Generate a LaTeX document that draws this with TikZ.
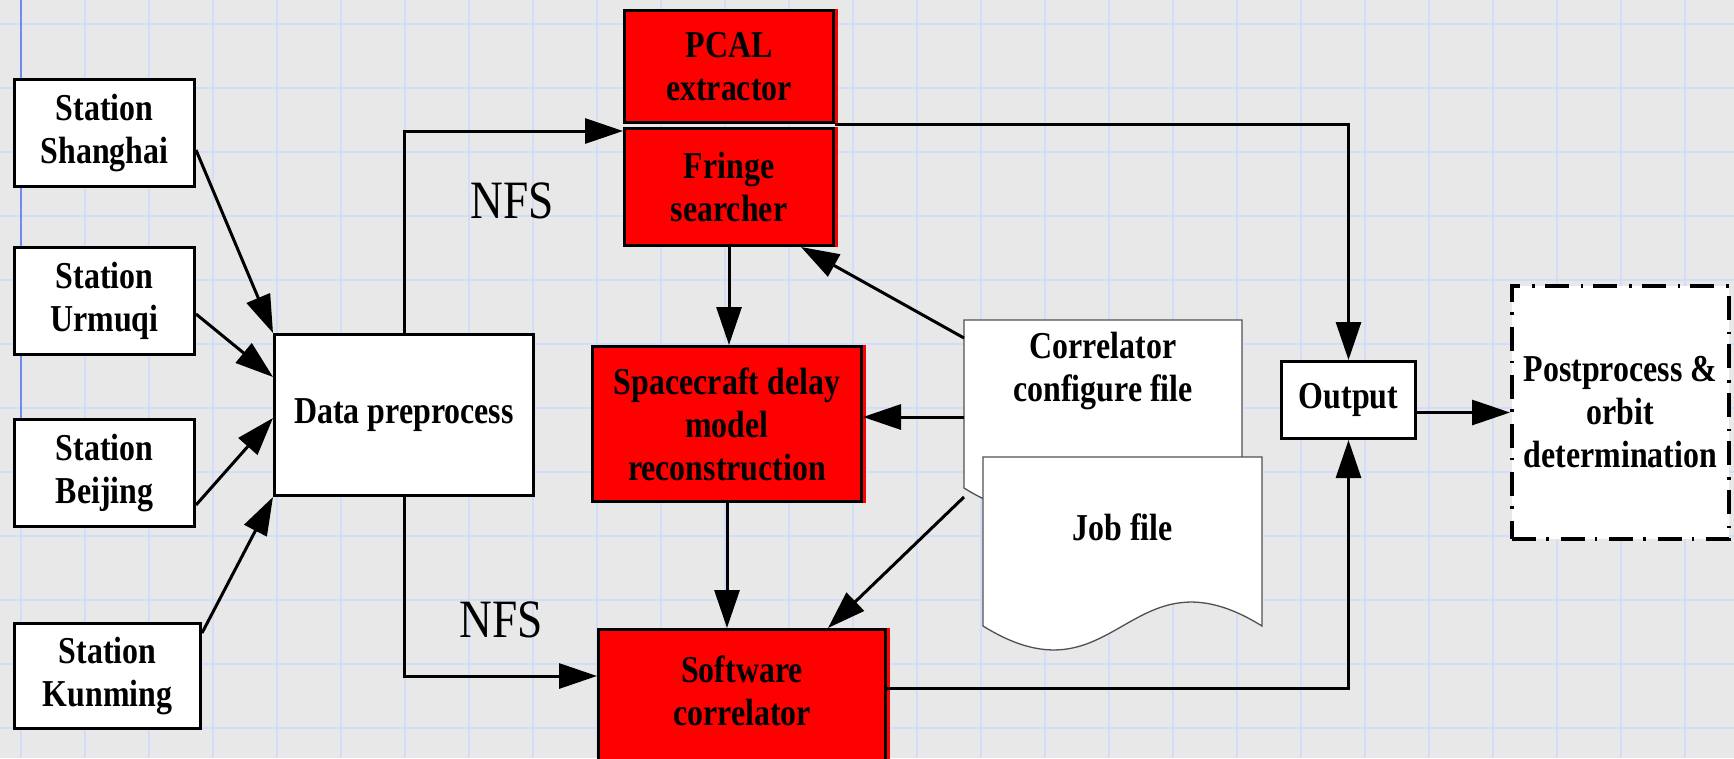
\documentclass[tikz,border=0pt]{standalone}
\usepackage{fontspec}
\usetikzlibrary{arrows.meta}
\newfontfamily\labfont{Liberation Serif}[FakeStretch=0.84]
\newfontfamily\nfsfont{Liberation Serif}[FakeStretch=0.84]
\definecolor{bgc}{RGB}{232,232,232}
\definecolor{gridc}{RGB}{210,221,247}
\definecolor{gridd}{RGB}{110,140,240}
\definecolor{docline}{RGB}{80,80,80}
\tikzset{
  lbl/.style={font=\labfont\bfseries\fontsize{38}{43}\selectfont, align=center},
  box/.style={draw=black, line width=3pt, fill=white, lbl, inner sep=0pt},
  redbox/.style={box, fill=red, preaction={draw=red, line width=3pt, transform canvas={xshift=2.5pt}}},
  ppbox/.style={draw=black, fill=white, line width=4pt, lbl, inner sep=0pt,
     dash pattern=on 24pt off 10pt on 2.5pt off 12pt},
  docarea/.style={inner sep=0pt, outer sep=0pt},
  docshape/.style={draw=docline, line width=1.3pt, fill=white},
  arr/.style={line width=3pt, -{Triangle[length=38pt,width=25pt]}},
  nfs/.style={font=\nfsfont\fontsize{54}{60}\selectfont, inner sep=0pt, anchor=base},
  gridline/.style={draw=gridc, line width=2pt},
}
\begin{document}
\begin{tikzpicture}[x=1pt, y=-1pt]
\useasboundingbox (0,0) rectangle (1734,758);
\fill[bgc] (0,0) rectangle (1734,758);
\begin{scope}
\clip (0,0) rectangle (1734,758);
\foreach \i in {0,...,27} \draw[gridline] ({20.7+64*\i},0) -- ({20.7+64*\i},758);
\foreach \j in {0,...,11} \draw[gridline] (0,{24+64*\j}) -- (1734,{24+64*\j});
\draw[draw=gridd, line width=2pt] (20.7,0) -- (20.7,418);

% stations
\node[box, minimum width=180pt, minimum height=107pt] (sh) at (104.5,133) {Station\\Shanghai};
\node[box, minimum width=180pt, minimum height=107pt] (ur) at (104.5,300.5) {Station\\Urmuqi};
\node[box, minimum width=180pt, minimum height=107pt] (bj) at (104.5,473) {Station\\Beijing};
\node[box, minimum width=186pt, minimum height=105pt] (km) at (107.5,676) {Station\\Kunming};

\node[box, minimum width=259pt, minimum height=161pt] (dp) at (404,415) {Data preprocess};

\node[redbox, minimum width=209pt, minimum height=112pt] (pcal) at (729,66.5) {PCAL\\extractor};
\node[redbox, minimum width=209pt, minimum height=117pt] (fringe) at (729,187) {Fringe\\searcher};
\node[redbox, minimum width=269pt, minimum height=155pt] (sc) at (727,424) {Spacecraft delay\\model\\reconstruction};
\node[redbox, minimum width=287pt, minimum height=159pt] (swc) at (742,709) {};
\node[lbl, inner sep=0pt, anchor=north] (swct) at (742,656) {Software\\correlator};

\node[box, minimum width=134pt, minimum height=77pt] (out) at (1348.5,400) {Output};
\node[ppbox, minimum width=217pt, minimum height=253pt] (pp) at (1620.5,412.5) {Postprocess \&\\orbit\\determination};

% documents
\node[docarea, minimum width=278pt, minimum height=168pt] (cfg) at (1103,404) {};
\path[docshape] (cfg.north west) -- (cfg.north east) -- (cfg.south east)
   .. controls (1108.6,405) and (1097.4,571) .. (cfg.south west) -- cycle;
\node[lbl, inner sep=0pt, anchor=north] (cfgt) at (1103,332) {Correlator\\configure file};
\node[docarea, minimum width=279pt, minimum height=169pt] (job) at (1122.5,541.5) {};
\path[docshape] (job.north west) -- (job.north east) -- (job.south east)
   .. controls (1128.1,543) and (1116.9,709) .. (job.south west) -- cycle;
\node[lbl, inner sep=0pt, anchor=north] (jobt) at (1122.5,514) {Job file};

% NFS labels
\node[nfs] (nfs1) at (512,218) {NFS};
\node[nfs] (nfs2) at (501,637) {NFS};

% connectors
\draw[arr] ([yshift=-17pt]sh.east) -- (dp.north west);
\draw[arr] ([yshift=-13.5pt]ur.east) -- ([yshift=38pt]dp.west);
\draw[arr] ([yshift=-32pt]bj.east) -- ([yshift=-3pt]dp.west);
\draw[arr] ([yshift=43pt]km.east) -- (dp.south west);

\draw[arr] (dp.north) |- ([yshift=56pt]fringe.west);
\draw[arr] (dp.south) |- ([yshift=33pt]swc.west);

\draw[arr] (pcal.south east) -| (out.north);
\draw[arr] ([yshift=21pt]swc.east) -| (out.south);
\draw[arr] (out.east |- pp.west) -- (pp.west);

\draw[arr] (fringe.south) -- (fringe.south |- sc.north);
\draw[arr] (sc.south) -- (sc.south |- swc.north);

\draw[arr] ([yshift=66pt]cfg.west) -- ([xshift=-34pt]fringe.south east);
\draw[arr] ([yshift=-13pt]cfg.west) -- ([yshift=-13pt]cfg.west -| sc.east);
\draw[arr] ([yshift=-93pt]cfg.west) -- ([xshift=86pt]swc.north);
\end{scope}
\end{tikzpicture}
\end{document}
